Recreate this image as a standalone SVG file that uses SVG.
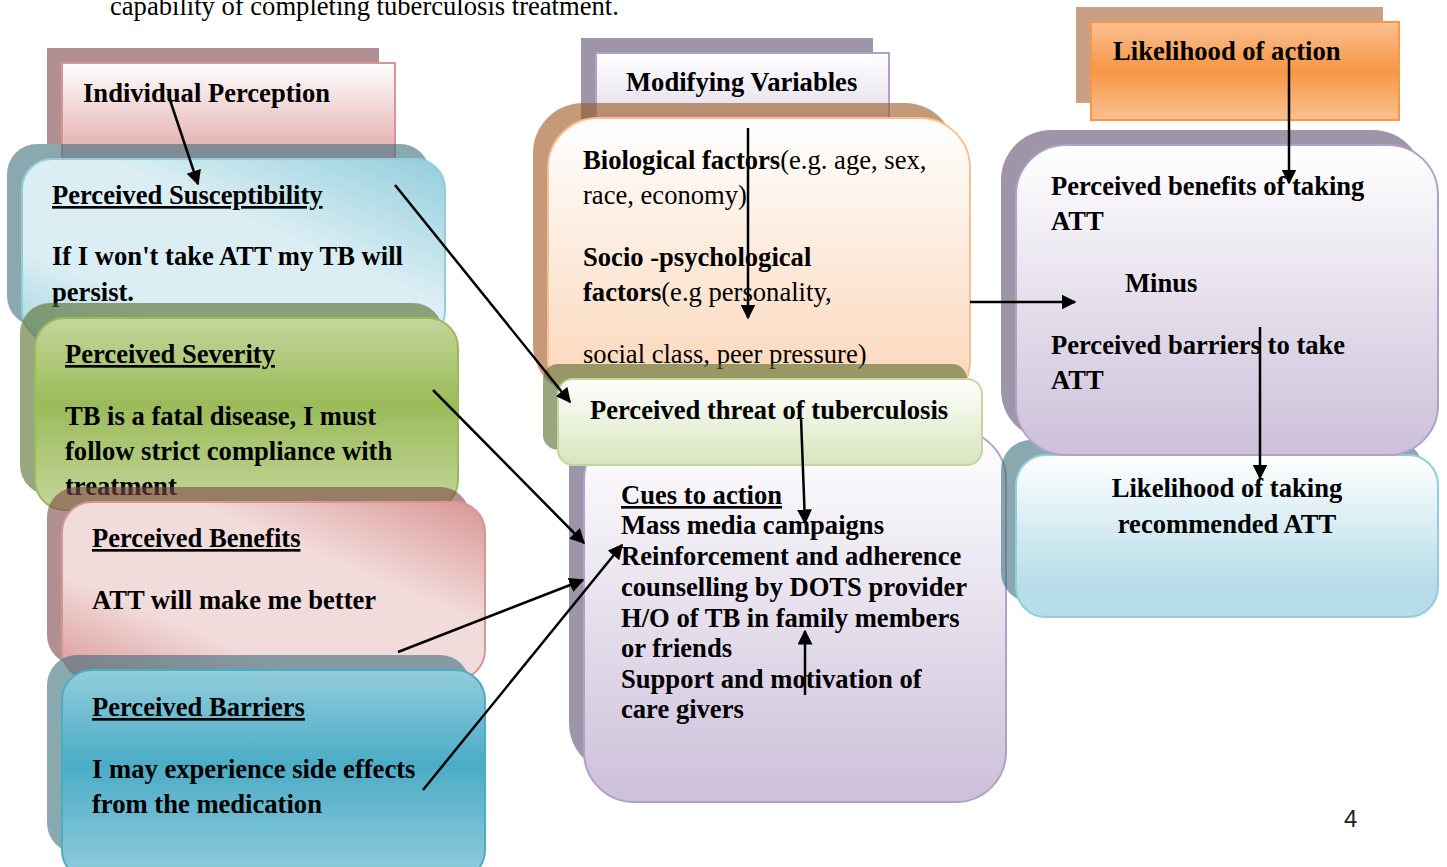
<svg xmlns="http://www.w3.org/2000/svg" width="1447" height="867" viewBox="0 0 1447 867">
<style>
.t{font-family:"Liberation Serif","Times New Roman",serif;font-size:26.6px;fill:#000}
.b{font-weight:bold}
.u{text-decoration:underline}
.n{font-weight:normal}
.sh{opacity:0.6}
.c{stroke:#000;stroke-width:2.5;fill:none;marker-end:url(#ah)}
</style>
<defs>
<marker id="ah" viewBox="0 0 10 10" refX="9" refY="5" markerWidth="6" markerHeight="6" markerUnits="strokeWidth" orient="auto"><path d="M0,0 L10,5 L0,10 z" fill="#000"/></marker>
<linearGradient id="gIP" x1="0" y1="0" x2="0" y2="1"><stop offset="0" stop-color="#ffffff"/><stop offset="0.8" stop-color="#e6b9b8"/></linearGradient>
<linearGradient id="gSus" x1="1" y1="0" x2="0" y2="1"><stop offset="0" stop-color="#92cddc"/><stop offset="0.4" stop-color="#daeef3"/><stop offset="0.75" stop-color="#daeef3"/><stop offset="1" stop-color="#a5d5e2"/></linearGradient>
<linearGradient id="gSev" x1="0" y1="0" x2="0" y2="1"><stop offset="0" stop-color="#c3d69b"/><stop offset="0.45" stop-color="#9bbb59"/><stop offset="1" stop-color="#c3d69b"/></linearGradient>
<linearGradient id="gBen" x1="1" y1="0" x2="0" y2="1"><stop offset="0" stop-color="#d99594"/><stop offset="0.35" stop-color="#f2dcdb"/><stop offset="0.7" stop-color="#f2dcdb"/><stop offset="1" stop-color="#d99594"/></linearGradient>
<linearGradient id="gBar" x1="0" y1="0" x2="0" y2="1"><stop offset="0" stop-color="#92cddc"/><stop offset="0.45" stop-color="#4bacc6"/><stop offset="1" stop-color="#92cddc"/></linearGradient>
<linearGradient id="gLav" x1="0" y1="0" x2="0" y2="1"><stop offset="0" stop-color="#ffffff"/><stop offset="1" stop-color="#ccc0da"/></linearGradient>
<linearGradient id="gMod" x1="0" y1="0" x2="0" y2="1"><stop offset="0" stop-color="#ffffff"/><stop offset="1" stop-color="#ddd5e6"/></linearGradient>
<linearGradient id="gBio" x1="0" y1="0" x2="0" y2="1"><stop offset="0" stop-color="#ffffff"/><stop offset="1" stop-color="#fbd4b4"/></linearGradient>
<linearGradient id="gThr" x1="0" y1="0" x2="0" y2="1"><stop offset="0" stop-color="#ffffff"/><stop offset="1" stop-color="#d7e4bc"/></linearGradient>
<linearGradient id="gAct" x1="0" y1="0" x2="0" y2="1"><stop offset="0" stop-color="#fac090"/><stop offset="0.5" stop-color="#f79646"/><stop offset="1" stop-color="#fac090"/></linearGradient>
<linearGradient id="gTak" x1="0" y1="0" x2="0" y2="1"><stop offset="0" stop-color="#ffffff"/><stop offset="0.8" stop-color="#b7dde8"/></linearGradient>
</defs>
<rect width="1447" height="867" fill="#ffffff"/>
<text x="110" y="15" class="t">capability of completing tuberculosis treatment.</text>

<g id="individual-perception">
<rect class="sh" x="47" y="48" width="332" height="96" fill="#7b4646"/>
<rect x="62" y="63" width="333" height="96" fill="url(#gIP)" stroke="#d99594" stroke-width="2"/>
<text x="83" y="102" class="t b">Individual Perception</text>
</g>

<g id="perceived-susceptibility">
<rect class="sh" x="7" y="144" width="423" height="182" rx="30" fill="#3c6e7b"/>
<rect x="22" y="159" width="423" height="182" rx="30" fill="url(#gSus)" stroke="#92cddc" stroke-width="2"/>
<text x="52" y="204" class="t b u">Perceived Susceptibility</text>
<text x="52" y="265" class="t b">If I won't take ATT my TB will</text>
<text x="52" y="301" class="t b">persist.</text>
</g>

<g id="perceived-severity">
<rect class="sh" x="20" y="303" width="423" height="192" rx="30" fill="#576b2a"/>
<rect x="35" y="318" width="423" height="192" rx="30" fill="url(#gSev)" stroke="#9bbb59" stroke-width="2"/>
<text x="65" y="363" class="t b u">Perceived Severity</text>
<text x="65" y="425" class="t b">TB is a fatal disease, I must</text>
<text x="65" y="460" class="t b">follow strict compliance with</text>
<text x="65" y="495" class="t b">treatment</text>
</g>

<g id="perceived-benefits">
<rect class="sh" x="47" y="487" width="423" height="178" rx="30" fill="#7b4646"/>
<rect x="62" y="502" width="423" height="178" rx="30" fill="url(#gBen)" stroke="#d99594" stroke-width="2"/>
<text x="92" y="547" class="t b u">Perceived Benefits</text>
<text x="92" y="609" class="t b">ATT will make me better</text>
</g>

<g id="perceived-barriers">
<rect class="sh" x="47" y="655" width="423" height="198" rx="30" fill="#3c6e7b"/>
<rect x="62" y="670" width="423" height="210" rx="30" fill="url(#gBar)" stroke="#4bacc6" stroke-width="2"/>
<text x="92" y="716" class="t b u">Perceived Barriers</text>
<text x="92" y="778" class="t b">I may experience side effects</text>
<text x="92" y="813" class="t b">from the medication</text>
</g>

<g id="modifying-variables">
<rect class="sh" x="581" y="38" width="292" height="90" fill="#5d4e6e"/>
<rect x="596" y="53" width="293" height="80" fill="url(#gMod)" stroke="#b2a1c7" stroke-width="2"/>
<text x="626" y="91" class="t b">Modifying Variables</text>
</g>

<g id="biological-factors">
<rect class="sh" x="533" y="103" width="422" height="292" rx="50" fill="#9d5721"/>
<rect x="548" y="118" width="422" height="292" rx="50" fill="url(#gBio)" stroke="#fac090" stroke-width="2"/>
<text x="583" y="169" class="t b">Biological factors<tspan class="n">(e.g. age, sex,</tspan></text>
<text x="583" y="204" class="t">race, economy)</text>
<text x="583" y="266" class="t b">Socio -psychological</text>
<text x="583" y="301" class="t b">factors<tspan class="n">(e.g personality,</tspan></text>
<text x="583" y="363" class="t">social class, peer pressure)</text>
</g>

<g id="cues-to-action">
<rect class="sh" x="569" y="415" width="422" height="358" rx="50" fill="#5d4e6e"/>
<rect x="584" y="430" width="422" height="372" rx="50" fill="url(#gLav)" stroke="#b2a1c7" stroke-width="2"/>
<text x="621" y="504" class="t b u">Cues to action</text>
<text x="621" y="534" class="t b">Mass media campaigns</text>
<text x="621" y="565" class="t b">Reinforcement and adherence</text>
<text x="621" y="596" class="t b">counselling by DOTS provider</text>
<text x="621" y="627" class="t b">H/O of TB in family members</text>
<text x="621" y="657" class="t b">or friends</text>
<text x="621" y="688" class="t b">Support and motivation of</text>
<text x="621" y="718" class="t b">care givers</text>
</g>

<g id="perceived-threat">
<rect class="sh" x="543" y="364" width="424" height="86" rx="15" fill="#576b2a"/>
<rect x="558" y="379" width="424" height="86" rx="15" fill="url(#gThr)" stroke="#c3d69b" stroke-width="2"/>
<text x="590" y="419" class="t b">Perceived threat of tuberculosis</text>
</g>

<g id="likelihood-of-action">
<rect class="sh" x="1076" y="7" width="307" height="96" fill="#a56130"/>
<rect x="1091" y="22" width="308" height="98" fill="url(#gAct)" stroke="#f79646" stroke-width="2"/>
<text x="1113" y="60" class="t b">Likelihood of action</text>
</g>

<g id="likelihood-of-taking">
<rect class="sh" x="1001" y="440" width="422" height="162" rx="30" fill="#3c6e7b"/>
<rect x="1016" y="455" width="422" height="162" rx="30" fill="url(#gTak)" stroke="#92cddc" stroke-width="2"/>
<text x="1227" y="497" class="t b" text-anchor="middle">Likelihood of taking</text>
<text x="1227" y="533" class="t b" text-anchor="middle">recommended ATT</text>
</g>

<g id="benefits-minus-barriers">
<rect class="sh" x="1001" y="130" width="422" height="310" rx="50" fill="#5d4e6e"/>
<rect x="1016" y="145" width="422" height="310" rx="50" fill="url(#gLav)" stroke="#b2a1c7" stroke-width="2"/>
<text x="1051" y="195" class="t b">Perceived benefits of taking</text>
<text x="1051" y="230" class="t b">ATT</text>
<text x="1125" y="292" class="t b">Minus</text>
<text x="1051" y="354" class="t b">Perceived barriers to take</text>
<text x="1051" y="389" class="t b">ATT</text>
</g>

<text x="1344" y="827" style="font-family:'Liberation Sans',Arial,sans-serif;font-size:24px" fill="#222">4</text>

<g id="connectors">
<line class="c" x1="170" y1="100" x2="198" y2="184"/>
<line class="c" x1="395" y1="185" x2="570" y2="402"/>
<line class="c" x1="433" y1="390" x2="584" y2="543"/>
<line class="c" x1="398" y1="652" x2="583" y2="580"/>
<line class="c" x1="423" y1="790" x2="622" y2="545"/>
<line class="c" x1="748" y1="128" x2="748" y2="318"/>
<line class="c" x1="801" y1="418" x2="805" y2="523"/>
<line class="c" x1="805" y1="695" x2="805" y2="631"/>
<line class="c" x1="970" y1="302" x2="1075" y2="302"/>
<line class="c" x1="1289" y1="57" x2="1289" y2="183"/>
<line class="c" x1="1260" y1="327" x2="1260" y2="478"/>
</g>
</svg>
